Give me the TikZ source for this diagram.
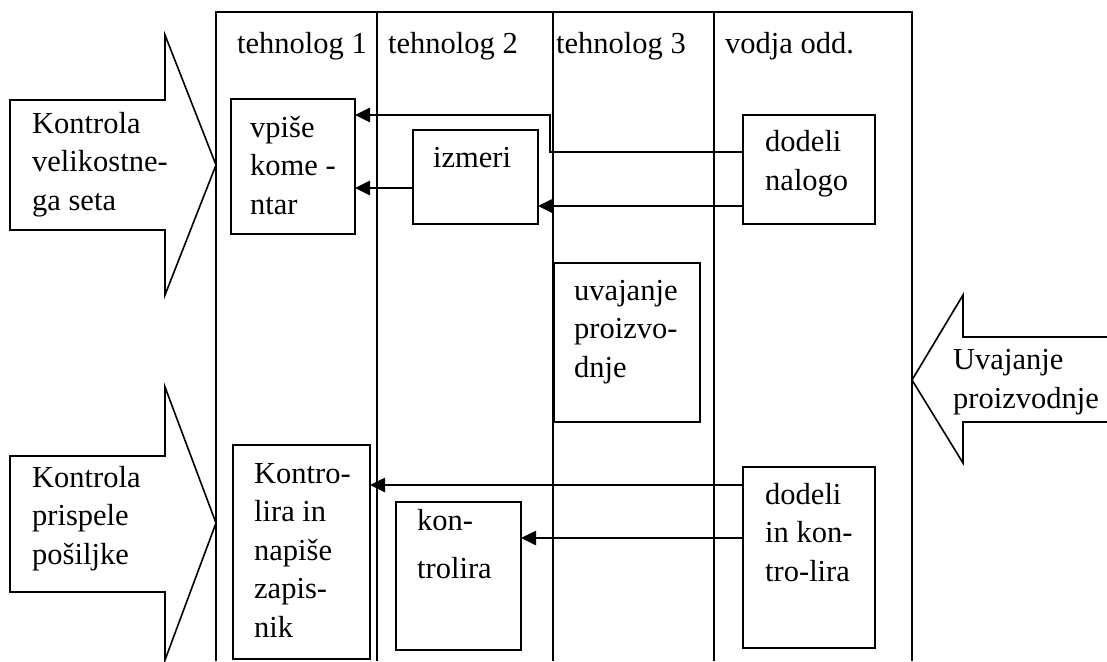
\documentclass[tikz,border=0pt]{standalone}
\usepackage{fontspec}
\setmainfont{Liberation Serif}
\usetikzlibrary{arrows.meta}
\tikzset{
  x=1pt, y=-1pt,
  lane/.style={line width=1.6pt},
  box/.style={draw, line width=2pt, rectangle, anchor=north west, inner sep=0pt, outer sep=0pt},
  txt/.style={anchor=base west, inner sep=0pt, align=left, font=\fontsize{30.5}{38.5}\selectfont},
  conn/.style={line width=2.6pt, -{Triangle[length=15pt,width=14pt]}},
  bigarrow/.style={line width=1.6pt, line join=miter},
}
\begin{document}
\begin{tikzpicture}
\useasboundingbox (0,0) rectangle (1107,661);
% swimlanes
\draw[lane] (216,661) -- (216,12) -- (912,12) -- (912,661);
\draw[lane] (377,12) -- (377,661);
\draw[lane] (553,12) -- (553,661);
\draw[lane] (714,12) -- (714,661);
\node[txt] (h1) at (237,53) {tehnolog 1};
\node[txt] (h2) at (388,53) {tehnolog 2};
\node[txt] (h3) at (556,53) {tehnolog 3};
\node[txt] (h4) at (725,53) {vodja odd.};
% big arrows (text anchors: baseline of last line)
\draw[bigarrow] (10,100) -- (165,100) -- (165,35) -- (216,165) -- (165,295) -- (165,230) -- (10,230) -- cycle;
\node[txt] (a1) at (32,210) {Kontrola\\velikostne-\\ga seta};
\draw[bigarrow] (10,456) -- (165,456) -- (165,387) -- (216,523) -- (165,660) -- (165,592) -- (10,592) -- cycle;
\node[txt] (a2) at (32,564) {Kontrola\\prispele\\pošiljke};
\draw[bigarrow] (1108,337) -- (963,337) -- (963,295) -- (912,380) -- (963,463) -- (963,422) -- (1108,422);
\node[txt] (a3) at (953,408) {Uvajanje\\proizvodnje};
% boxes
\node[box, minimum width=124pt, minimum height=135pt] (vp) at (231,99) {};
\node[txt] (vpt) at (250,214) {vpiše\\kome -\\ntar};
\node[box, minimum width=125pt, minimum height=94pt] (iz) at (413,130) {};
\node[txt] (izt) at (433,167) {izmeri};
\node[box, minimum width=132pt, minimum height=109pt] (dn) at (743,115) {};
\node[txt] (dnt) at (765,190) {dodeli\\nalogo};
\node[box, minimum width=146pt, minimum height=159pt] (uv) at (554,263) {};
\node[txt] (uvt) at (574,377) {uvajanje\\proizvo-\\dnje};
\node[box, minimum width=137pt, minimum height=214pt] (kl) at (233,445) {};
\node[txt] (klt) at (254,637) {Kontro-\\lira in\\napiše\\zapis-\\nik};
\node[box, minimum width=125pt, minimum height=148pt] (ko) at (396,502) {};
\node[txt] (kot) at (417,578) {kon-\\[9.5pt]trolira};
\node[box, minimum width=132pt, minimum height=181pt] (dk) at (743,467) {};
\node[txt] (dkt) at (765,581) {dodeli\\in kon-\\tro-lira};
% connectors
\coordinate (c1) at ([yshift=-37pt]dn.north west);
\coordinate (c1b) at ([yshift=-16pt]vp.north east);
\draw[conn] (c1) -- ++(-193,0) |- (c1b);
\coordinate (c2) at ([yshift=-58pt]iz.north west);
\draw[conn] (c2) -- (c2 -| vp.east);
\coordinate (c3) at ([yshift=-91pt]dn.north west);
\draw[conn] (c3) -- (c3 -| iz.east);
\coordinate (c4) at ([yshift=-18pt]dk.north west);
\draw[conn] (c4) -- (c4 -| kl.east);
\coordinate (c5) at ([yshift=-71pt]dk.north west);
\draw[conn] (c5) -- (c5 -| ko.east);
\end{tikzpicture}
\end{document}
